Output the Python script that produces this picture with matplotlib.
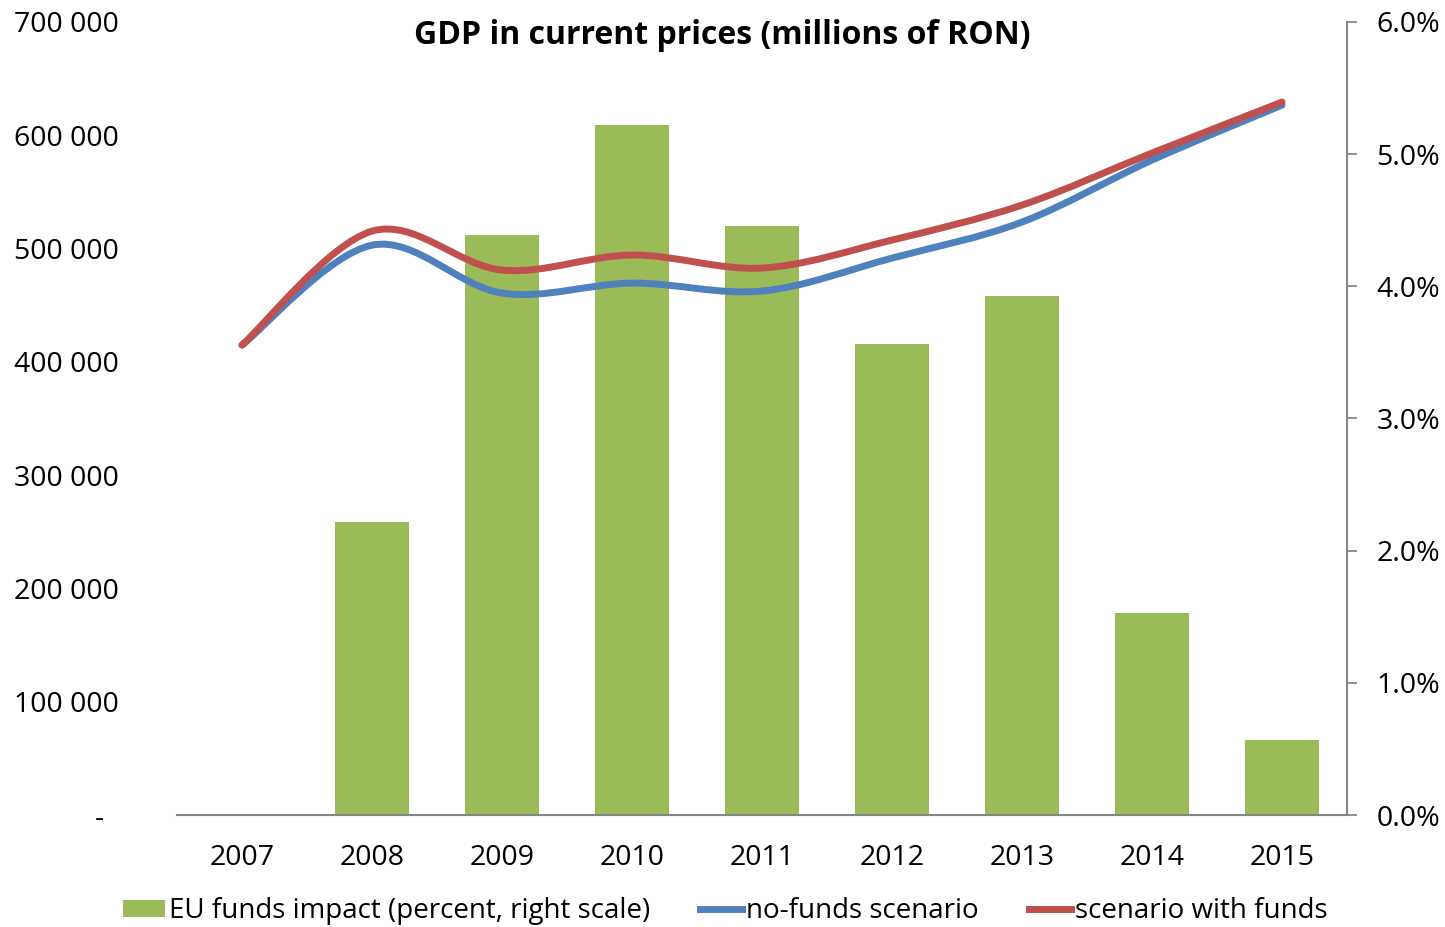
import numpy as np
import matplotlib.pyplot as plt
from matplotlib.path import Path
from matplotlib.patches import PathPatch, Patch
from matplotlib.lines import Line2D
from matplotlib.ticker import FixedLocator, FuncFormatter

plt.rcParams['font.family'] = ['Open Sans', 'DejaVu Sans']

# data
years = ['2007', '2008', '2009', '2010', '2011', '2012', '2013', '2014', '2015']
eu_impact = [0.0, 2.22, 4.39, 5.22, 4.46, 3.56, 3.93, 1.53, 0.57]  # percent
no_funds = [414800, 503000, 460700, 469500, 462500, 491600, 523400, 578100, 626600]
with_funds = [414800, 515400, 481000, 494300, 482800, 507500, 538400, 584300, 629300]

GREEN = '#9BBB59'
BLUE = '#4F81BD'
RED = '#C0504D'
GRAY = '#868686'
FS = 20.5


def smooth_path(xs, ys):
    """Excel-like smoothed line: bezier segments with catmull-rom control points."""
    pts = np.column_stack([xs, ys]).astype(float)
    n = len(pts)
    verts = [pts[0]]
    codes = [Path.MOVETO]
    for i in range(n - 1):
        p0 = pts[i - 1] if i > 0 else pts[i]
        p1 = pts[i]
        p2 = pts[i + 1]
        p3 = pts[i + 2] if i + 2 < n else pts[i + 1]
        c1 = p1 + (p2 - p0) / 6.0
        c2 = p2 - (p3 - p1) / 6.0
        verts += [c1, c2, p2]
        codes += [Path.CURVE4] * 3
    return Path(verts, codes)


fig = plt.figure(figsize=(14.45, 9.27), dpi=100)
ax = fig.add_axes([0.1225, 0.1208, 0.8097, 0.8555])
ax2 = ax.twinx()
x = np.arange(len(years))

# bars on the base axes (right scale)
ax.bar(x, np.array(eu_impact) / 100.0, width=0.57, color=GREEN, zorder=2)
ax.set_xlim(-0.5, len(years) - 0.5)
ax.set_ylim(0, 0.06)
ax.yaxis.tick_right()
ax.yaxis.set_label_position('right')
ax.yaxis.set_major_locator(FixedLocator(np.arange(0, 0.061, 0.01)))
ax.yaxis.set_major_formatter(FuncFormatter(lambda v, p: f'{v*100:.1f}%'))
ax.tick_params(axis='y', which='major', direction='out', length=7, width=1.3,
               color=GRAY, pad=14, labelsize=FS, labelcolor='black')
ax.set_xticks(x)
ax.set_xticklabels(years)
ax.tick_params(axis='x', length=0, pad=21, labelsize=FS)
for s in ['left', 'top']:
    ax.spines[s].set_visible(False)
for s in ['right', 'bottom']:
    ax.spines[s].set_color(GRAY)
    ax.spines[s].set_linewidth(1.5)

# lines on the twin axes (left scale)
ax2.set_ylim(0, 700000)
ax2.yaxis.tick_left()
ax2.yaxis.set_major_locator(FixedLocator(np.arange(0, 700001, 100000)))


def left_fmt(v, p):
    if v == 0:
        return '-  '
    return f'{int(v):,}'.replace(',', ' ')


ax2.yaxis.set_major_formatter(FuncFormatter(left_fmt))
ax2.tick_params(axis='y', length=0, pad=42, labelsize=FS)
for s in ax2.spines.values():
    s.set_visible(False)

ax2.add_patch(PathPatch(smooth_path(x, no_funds), fill=False, edgecolor=BLUE,
                        linewidth=5, capstyle='round', zorder=3))
ax2.add_patch(PathPatch(smooth_path(x, with_funds), fill=False, edgecolor=RED,
                        linewidth=5, capstyle='round', zorder=4))

fig.text(0.5, 0.962, 'GDP in current prices (millions of RON)', ha='center',
         va='center', fontsize=23, fontweight='bold')

handles = [Patch(facecolor=GREEN, edgecolor='none'),
           Line2D([], [], color=BLUE, linewidth=5),
           Line2D([], [], color=RED, linewidth=5)]
labels = ['EU funds impact (percent, right scale)', 'no-funds scenario',
          'scenario with funds']
fig.legend(handles, labels, loc='center', bbox_to_anchor=(0.502, 0.017), ncol=3,
           frameon=False, fontsize=20, handlelength=1.5, handleheight=0.6,
           handletextpad=0.15, columnspacing=1.8, borderaxespad=0)

fig.savefig('out.png', dpi=100)
